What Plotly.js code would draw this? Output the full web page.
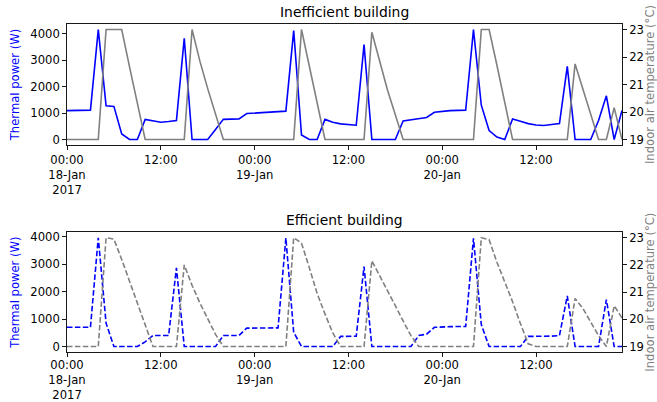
<!DOCTYPE html>
<html>
<head>
<meta charset="utf-8">
<script src="https://cdn.plot.ly/plotly-3.0.1.min.js"></script>
<style>html,body{margin:0;padding:0;background:#fff;}#chart{width:657px;height:402px;}</style>
</head>
<body>
<div id="chart"></div>
<script>
// Hourly data, starting 2017-01-18 00:00
const startDate = [2017, 0, 18];

const powerInefficient = [
  1090, 1095, 1100, 1110, 4150, 1270, 1250, 210, 0, 0, 760, 700,
  650, 680, 720, 3820, 0, 0, 0, 380, 760, 770, 780, 980,
  1000, 1020, 1040, 1050, 1070, 4110, 170, 0, 0, 760, 650, 590,
  560, 540, 3580, 0, 0, 0, 0, 700, 750, 790, 830, 1030,
  1070, 1090, 1100, 1105, 4150, 1295, 340, 90, 0, 775, 690, 600,
  550, 530, 570, 600, 2760, 0, 0, 0, 720, 1650, 0, 1100
];
const tempInefficient = [
  19, 19, 19, 19, 19, 23.0, 23.0, 23.0, 21.64, 20.33, 19, 19,
  19, 19, 19, 19, 23.0, 21.85, 20.85, 19.9, 19, 19, 19, 19,
  19, 19, 19, 19, 19, 19, 23.0, 21.7, 20.35, 19, 19, 19,
  19, 19, 19, 22.9, 21.85, 20.8, 19.9, 19, 19, 19, 19, 19,
  19, 19, 19, 19, 19, 23.0, 23.0, 21.7, 20.35, 19, 19, 19,
  19, 19, 19, 19, 19, 21.75, 20.85, 19.95, 19, 19, 20.16, 19
];
const powerEfficient = [
  700, 700, 700, 700, 3960, 850, 0, 0, 0, 0, 170, 400,
  400, 400, 2860, 0, 0, 0, 0, 0, 405, 405, 405, 670,
  670, 670, 670, 680, 3950, 520, 0, 0, 0, 0, 0, 370,
  370, 375, 2910, 0, 0, 0, 0, 0, 0, 400, 450, 700,
  720, 725, 730, 730, 3940, 800, 0, 0, 0, 0, 0, 370,
  370, 370, 380, 400, 1840, 0, 0, 0, 0, 1710, 0, 0
];
const tempEfficient = [
  19, 19, 19, 19, 19, 23.0, 22.95, 22.2, 21.4, 20.6, 19.8, 19.0,
  19, 19, 19, 22.0, 21.25, 20.6, 20.05, 19.45, 19.0, 19, 19, 19,
  19, 19, 19, 19, 19, 23.0, 22.8, 21.9, 20.95, 20.2, 19.5, 19.0,
  19, 19, 19, 22.15, 21.58, 21.04, 20.5, 19.94, 19.4, 19.0, 19, 19,
  19, 19, 19, 19, 19, 23.0, 22.93, 22.1, 21.4, 20.65, 19.85, 19.1,
  19, 19, 19, 19, 19, 20.77, 20.4, 19.9, 19.4, 19.0, 20.5, 20.05
];

const tickHours = [0, 12, 24, 36, 48, 60];
const tickLabels = ['00:00<br>18-Jan<br>2017', '12:00', '00:00<br>19-Jan', '12:00', '00:00<br>20-Jan', '12:00'];
const titles = ['Inefficient building', 'Efficient building'];
const powerLabel = 'Thermal power (W)';
const tempLabel = 'Indoor air temperature (°C)';

function stamp(h) {
  const d = new Date(Date.UTC(startDate[0], startDate[1], startDate[2], h));
  return d.toISOString().slice(0, 16).replace('T', ' ');
}
const times = powerInefficient.map((_, i) => stamp(i));
const tickVals = tickHours.map(stamp);

const BLUE = '#0000ff';
const GREY = '#808080';
const FONT = 'DejaVu Sans';
const LW = 1.6;
const DASH = '5.5px,2.4px';

const traces = [
  {x: times, y: powerInefficient, type: 'scatter', mode: 'lines', xaxis: 'x', yaxis: 'y',
   line: {color: BLUE, width: LW}, hoverinfo: 'skip'},
  {x: times, y: tempInefficient, type: 'scatter', mode: 'lines', xaxis: 'x', yaxis: 'y2',
   line: {color: GREY, width: LW}, hoverinfo: 'skip'},
  {x: times, y: powerEfficient, type: 'scatter', mode: 'lines', xaxis: 'x2', yaxis: 'y3',
   line: {color: BLUE, width: LW, dash: DASH}, hoverinfo: 'skip'},
  {x: times, y: tempEfficient, type: 'scatter', mode: 'lines', xaxis: 'x2', yaxis: 'y4',
   line: {color: GREY, width: LW, dash: DASH}, hoverinfo: 'skip'}
];

const tickFont = {family: FONT, size: 11.6, color: '#000'};
function xAxis(anchor, standoff) {
  return {
    type: 'date', anchor: anchor, domain: [0, 1],
    range: [times[0], times[times.length - 1]],
    tickmode: 'array', tickvals: tickVals, ticktext: tickLabels,
    ticks: 'outside', ticklen: 4, tickwidth: 0.9, tickcolor: '#000',
    showline: true, linecolor: '#000', linewidth: 0.9, mirror: true,
    showgrid: false, zeroline: false, tickfont: tickFont,
    ticklabelstandoff: standoff
  };
}
function powerAxis(domain, range, anchor) {
  return {
    domain: domain, range: range, anchor: anchor,
    tickmode: 'array', tickvals: [0, 1000, 2000, 3000, 4000],
    ticks: 'outside', ticklen: 4, tickwidth: 0.9, tickcolor: '#000',
    showline: true, linecolor: '#000', linewidth: 0.9,
    showgrid: false, zeroline: false, tickfont: tickFont,
    title: {text: powerLabel, font: {family: FONT, size: 11.6, color: BLUE}, standoff: 8},
    automargin: false
  };
}
function tempAxis(overlay, anchor) {
  return {
    overlaying: overlay, side: 'right', anchor: anchor, range: [18.8, 23.2],
    tickmode: 'array', tickvals: [19, 20, 21, 22, 23],
    ticks: 'outside', ticklen: 4, tickwidth: 0.9, tickcolor: '#000',
    showline: true, linecolor: '#000', linewidth: 0.9,
    showgrid: false, zeroline: false, tickfont: tickFont,
    title: {text: tempLabel, font: {family: FONT, size: 11.6, color: GREY}, standoff: 5},
    automargin: false
  };
}

const layout = {
  width: 657, height: 402,
  margin: {l: 67, r: 35, t: 24, b: 50},
  paper_bgcolor: '#fff', plot_bgcolor: '#fff',
  showlegend: false,
  font: {family: FONT, color: '#000'},
  xaxis: xAxis('y', 0),
  yaxis: powerAxis([0.631, 1], [-208, 4360], 'x'),
  yaxis2: tempAxis('y', 'x'),
  xaxis2: xAxis('y3', -2),
  yaxis3: powerAxis([0, 0.365], [-198, 4158], 'x2'),
  yaxis4: tempAxis('y3', 'x2'),
  annotations: [
    {text: titles[0], xref: 'paper', yref: 'paper', x: 0.5, y: 1, xanchor: 'center', yanchor: 'bottom',
     yshift: 2, showarrow: false, font: {family: FONT, size: 13.9, color: '#000'}},
    {text: titles[1], xref: 'paper', yref: 'paper', x: 0.5, y: 0.365, xanchor: 'center', yanchor: 'bottom',
     yshift: 2, showarrow: false, font: {family: FONT, size: 13.9, color: '#000'}}
  ]
};

Plotly.newPlot('chart', traces, layout, {staticPlot: true, displayModeBar: false});
</script>
</body>
</html>
